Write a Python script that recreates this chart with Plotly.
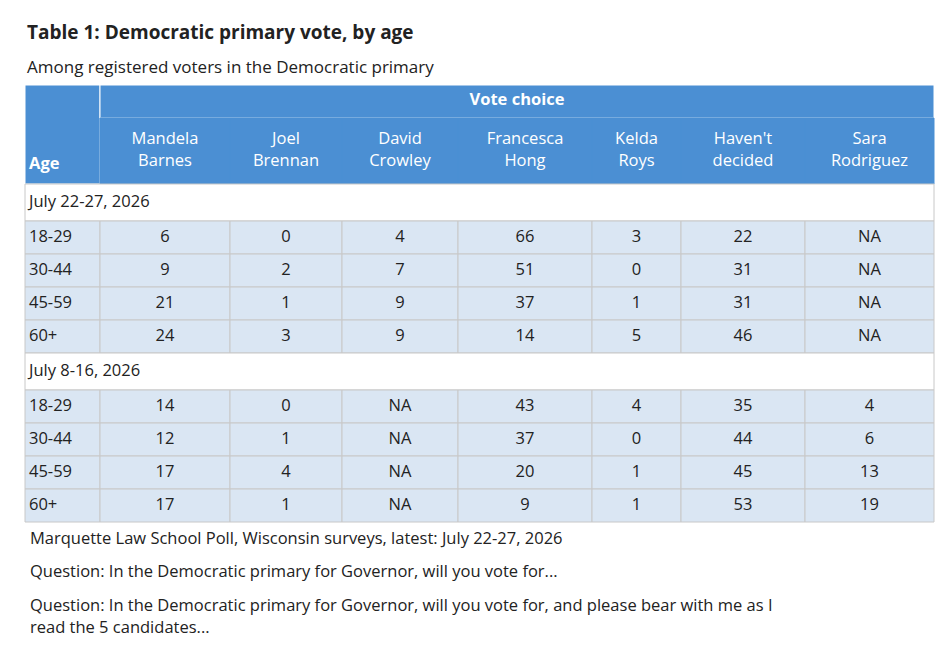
import plotly.graph_objects as go

title = "<b>Table 1: Democratic primary vote, by age</b>"
subtitle = "Among registered voters in the Democratic primary"
spanner = "Vote choice"
candidates = ["Mandela<br>Barnes", "Joel<br>Brennan", "David<br>Crowley", "Francesca<br>Hong",
              "Kelda<br>Roys", "Haven't<br>decided", "Sara<br>Rodriguez"]
ages = ["18-29", "30-44", "45-59", "60+"]
groups = ["July 22-27, 2026", "July 8-16, 2026"]
values_jul22 = [
    ["6", "0", "4", "66", "3", "22", "NA"],
    ["9", "2", "7", "51", "0", "31", "NA"],
    ["21", "1", "9", "37", "1", "31", "NA"],
    ["24", "3", "9", "14", "5", "46", "NA"],
]
values_jul8 = [
    ["14", "0", "NA", "43", "4", "35", "4"],
    ["12", "1", "NA", "37", "0", "44", "6"],
    ["17", "4", "NA", "20", "1", "45", "13"],
    ["17", "1", "NA", "9", "1", "53", "19"],
]
notes = [
    "Marquette Law School Poll, Wisconsin surveys, latest: July 22-27, 2026",
    "Question: In the Democratic primary for Governor, will you vote for...",
    "Question: In the Democratic primary for Governor, will you vote for, and please bear with me as I<br>read the 5 candidates...",
]

# page body has an 8px margin, so the figure is a bit smaller and the axes start at 8
W, H, PAD = 930, 640, 8
col_edges = [25, 100, 230, 342, 458, 592, 681, 805, 934]
head_blue = "#4b8fd3"
body_blue = "#dae6f3"
grid = "#c8c8c8"
font = "Open Sans"

shapes = []
txt_x, txt_y, txt_s, txt_pos, txt_c = [], [], [], [], []


def add_text(x, y, s, pos="middle center", c="#222222"):
    txt_x.append(x); txt_y.append(y); txt_s.append(s); txt_pos.append(pos); txt_c.append(c)


def rect(x0, y0, x1, y1, fill, line):
    shapes.append(dict(type="rect", xref="x", yref="y", x0=x0, y0=y0, x1=x1, y1=y1,
                       fillcolor=fill, line=dict(color=line, width=1), layer="below"))


# header
top, mid, head_bot = 85, 118, 184
rect(col_edges[0], top, col_edges[1], head_bot, head_blue, "#ffffff")
rect(col_edges[1], top, col_edges[-1], mid, head_blue, "#ffffff")
for i in range(1, len(col_edges) - 1):
    rect(col_edges[i], mid, col_edges[i + 1], head_bot, head_blue, head_blue)
    add_text((col_edges[i] + col_edges[i + 1]) / 2, 151, candidates[i - 1], c="white")
add_text((col_edges[1] + col_edges[-1]) / 2, 101, "<b>" + spanner + "</b>", c="white")
add_text(col_edges[0] + 4, 165, "<b>Age</b>", "middle right", "white")

# body
y = head_bot
for g, vals in zip(groups, [values_jul22, values_jul8]):
    rect(col_edges[0], y, col_edges[-1], y + 37, "white", grid)
    add_text(col_edges[0] + 4, y + 18.5, g, "middle right")
    y += 37
    for a, row in zip(ages, vals):
        for i in range(len(col_edges) - 1):
            rect(col_edges[i], y, col_edges[i + 1], y + 33, body_blue, grid)
        add_text(col_edges[0] + 4, y + 16.5, a, "middle right")
        for i, v in enumerate(row):
            add_text((col_edges[i + 1] + col_edges[i + 2]) / 2, y + 16.5, v)
        y += 33

# footer notes
ny = y + 18
for n in notes:
    add_text(col_edges[0] + 5, ny + (12 if "<br>" in n else 0), n, "middle right")
    ny += 33
shapes.append(dict(type="line", xref="x", yref="y", x0=25, x1=934, y0=650, y1=650,
                   line=dict(color="#333333", width=1)))

fig = go.Figure(go.Scatter(
    x=txt_x, y=txt_y, text=txt_s, mode="text", textposition=txt_pos,
    textfont=dict(family=font, size=16.5, color=txt_c), hoverinfo="skip"))

fig.add_annotation(x=25, y=32, xref="x", yref="y", text=title, showarrow=False,
                   xanchor="left", font=dict(family=font, size=19, color="#222222"))
fig.add_annotation(x=25, y=66, xref="x", yref="y", text=subtitle, showarrow=False,
                   xanchor="left", font=dict(family=font, size=17, color="#222222"))

fig.update_layout(width=W, height=H, margin=dict(l=0, r=0, t=0, b=0),
                  plot_bgcolor="white", paper_bgcolor="white", shapes=shapes, showlegend=False)
fig.update_xaxes(range=[PAD, PAD + W], visible=False, fixedrange=True)
fig.update_yaxes(range=[PAD + H, PAD], visible=False, fixedrange=True)

fig.write_html("out.html")
